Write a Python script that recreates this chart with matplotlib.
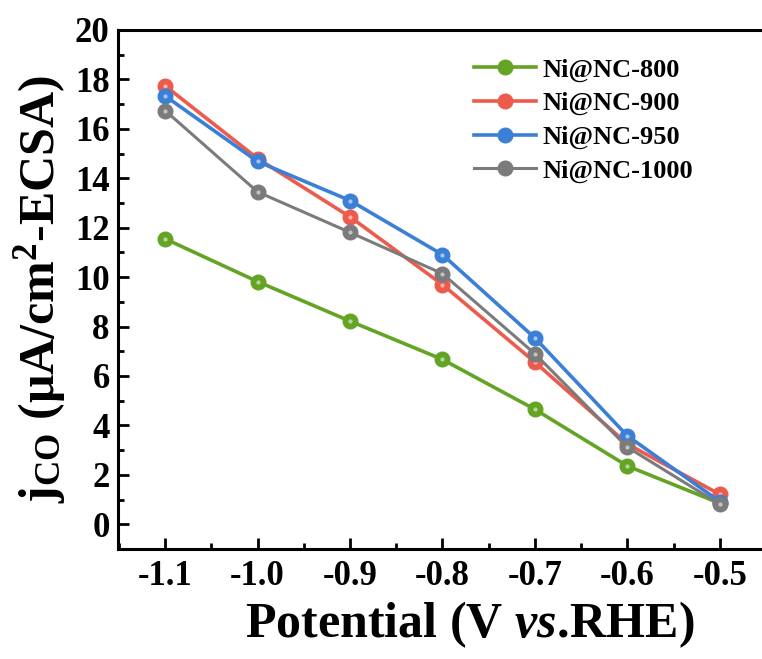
import numpy as np
import matplotlib
matplotlib.use("Agg")
import matplotlib.pyplot as plt
from matplotlib.ticker import MultipleLocator

plt.rcParams['font.family'] = ['Liberation Serif', 'DejaVu Serif']
plt.rcParams['font.weight'] = 'bold'
plt.rcParams['mathtext.fontset'] = 'custom'
plt.rcParams['mathtext.rm'] = 'Liberation Serif:bold'
plt.rcParams['mathtext.bf'] = 'Liberation Serif:bold'
plt.rcParams['mathtext.it'] = 'Liberation Serif:bold:italic'
plt.rcParams['mathtext.default'] = 'rm'

potential = [-1.1, -1.0, -0.9, -0.8, -0.7, -0.6, -0.5]
ni800 = [11.55, 9.82, 8.22, 6.67, 4.65, 2.36, 0.85]
ni900 = [17.74, 14.80, 12.44, 9.70, 6.56, 3.25, 1.21]
ni950 = [17.33, 14.68, 13.10, 10.91, 7.54, 3.58, 0.92]
ni1000 = [16.74, 13.45, 11.81, 10.14, 6.90, 3.12, 0.81]

labels = ['Ni@NC-800', 'Ni@NC-900', 'Ni@NC-950', 'Ni@NC-1000']
colors = ['#64A425', '#EC5B4C', '#3B7FD6', '#7B7B7B']
series = [ni800, ni900, ni950, ni1000]

fig = plt.figure(figsize=(7.62, 6.59), dpi=100)
ax = fig.add_axes([118 / 762, 110 / 659, 648 / 762, 519 / 659])

for vals, c, lab in zip(series, colors, labels):
    lw = 2.2 if lab == 'Ni@NC-1000' else 2.6
    ax.plot(potential, vals, '-o', color=c, lw=lw, ms=10.5, mec=c, mfc=c, label=lab)
    ax.plot(potential, vals, 'o', color='white', ms=3, alpha=0.55, mec='none')

ax.set_xlim(-1.151, -0.45)
ax.set_ylim(-1, 20)
ax.xaxis.set_major_locator(MultipleLocator(0.1))
ax.xaxis.set_minor_locator(MultipleLocator(0.05))
ax.yaxis.set_major_locator(MultipleLocator(2))
ax.yaxis.set_minor_locator(MultipleLocator(1))
ax.set_xticks(potential)
ax.set_xticklabels(['%.1f' % p for p in potential])

ax.tick_params(which='both', direction='in', width=2, labelsize=25, top=False, right=False)
ax.tick_params(which='major', length=8)
ax.tick_params(which='minor', length=4)
ax.tick_params(axis='x', pad=8)
ax.tick_params(axis='y', pad=6)
for s in ax.spines.values():
    s.set_linewidth(2.2)

ax.set_xlabel(r'Potential (V $\mathit{vs.}\!$RHE)', fontsize=36, fontweight='bold')
ax.xaxis.set_label_coords(0.543, -0.097)
ax.set_ylabel(r'$j_{CO}$ (μA/cm$^{2}$-ECSA)', fontsize=36, fontweight='bold', labelpad=5)

ax.legend(loc='upper left', bbox_to_anchor=(474 / 762, 1 - 58 / 659), bbox_transform=fig.transFigure,
          frameon=False, handlelength=2.35, handletextpad=0.26, labelspacing=0.38,
          borderpad=0, borderaxespad=0, prop={'weight': 'bold', 'size': 19})

fig.savefig('out.png', dpi=100)
